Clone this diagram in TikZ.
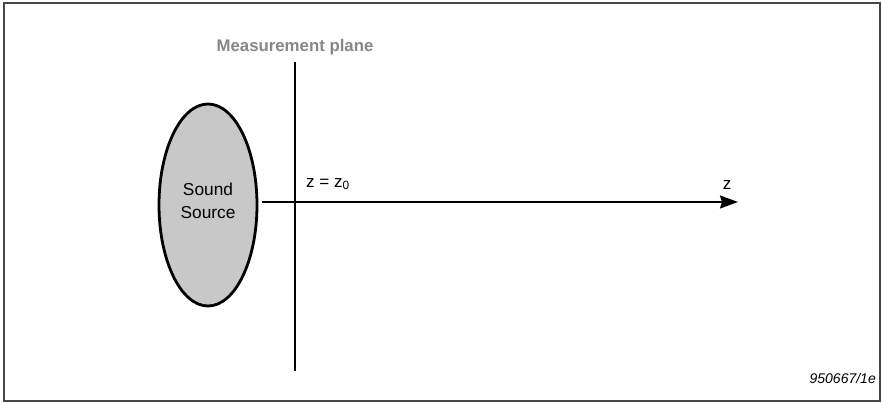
\documentclass[tikz,border=0pt]{standalone}
\usepackage{fontspec}
\setmainfont{Liberation Sans}
\usetikzlibrary{shapes.geometric,arrows.meta}
\definecolor{srcfill}{RGB}{200,200,200}
\definecolor{labelgray}{RGB}{135,135,135}
\definecolor{framegray}{RGB}{70,70,70}
\begin{document}
\begin{tikzpicture}[x=1pt,y=-1pt,
  framebox/.style={draw=framegray,line width=1.4pt},
  source/.style={ellipse,draw=black,line width=2.8pt,fill=srcfill,minimum width=98pt,minimum height=202pt,inner sep=0pt},
  srctext/.style={inner sep=0pt,align=center,font=\fontsize{17.3}{23}\selectfont},
  axisline/.style={line width=1.8pt,-{Stealth[length=18pt,width=13pt,inset=2pt]}},
  planeline/.style={line width=1.8pt},
  plainlabel/.style={inner sep=0pt,font=\fontsize{17}{19}\selectfont}]
\useasboundingbox (0,0) rectangle (882,403);
\draw[framebox] (4,3) rectangle (880,401);
\node[source] (src) at (208,205) {};
\node[srctext] (srct) at (208,201) {Sound\\Source};
\coordinate (ptop) at (295,62);
\coordinate (pbot) at (295,371);
\coordinate (zend) at (738,202);
\coordinate (zstart) at (262,202);
\draw[planeline] (ptop) -- (pbot);
\draw[axisline] (zstart) -- (zend);
\node[inner sep=0pt,font=\bfseries\fontsize{16.8}{19}\selectfont,text=labelgray] (mp) at (295,47) {Measurement plane};
\node[plainlabel,anchor=west] (zz) at (306,184) {z = z\textsubscript{0}};
\node[plainlabel] (zl) at (727,185) {z};
\node[inner sep=0pt,font=\itshape\fontsize{14}{16}\selectfont,anchor=east] (ref) at (876,378) {950667/1e};
\end{tikzpicture}
\end{document}
